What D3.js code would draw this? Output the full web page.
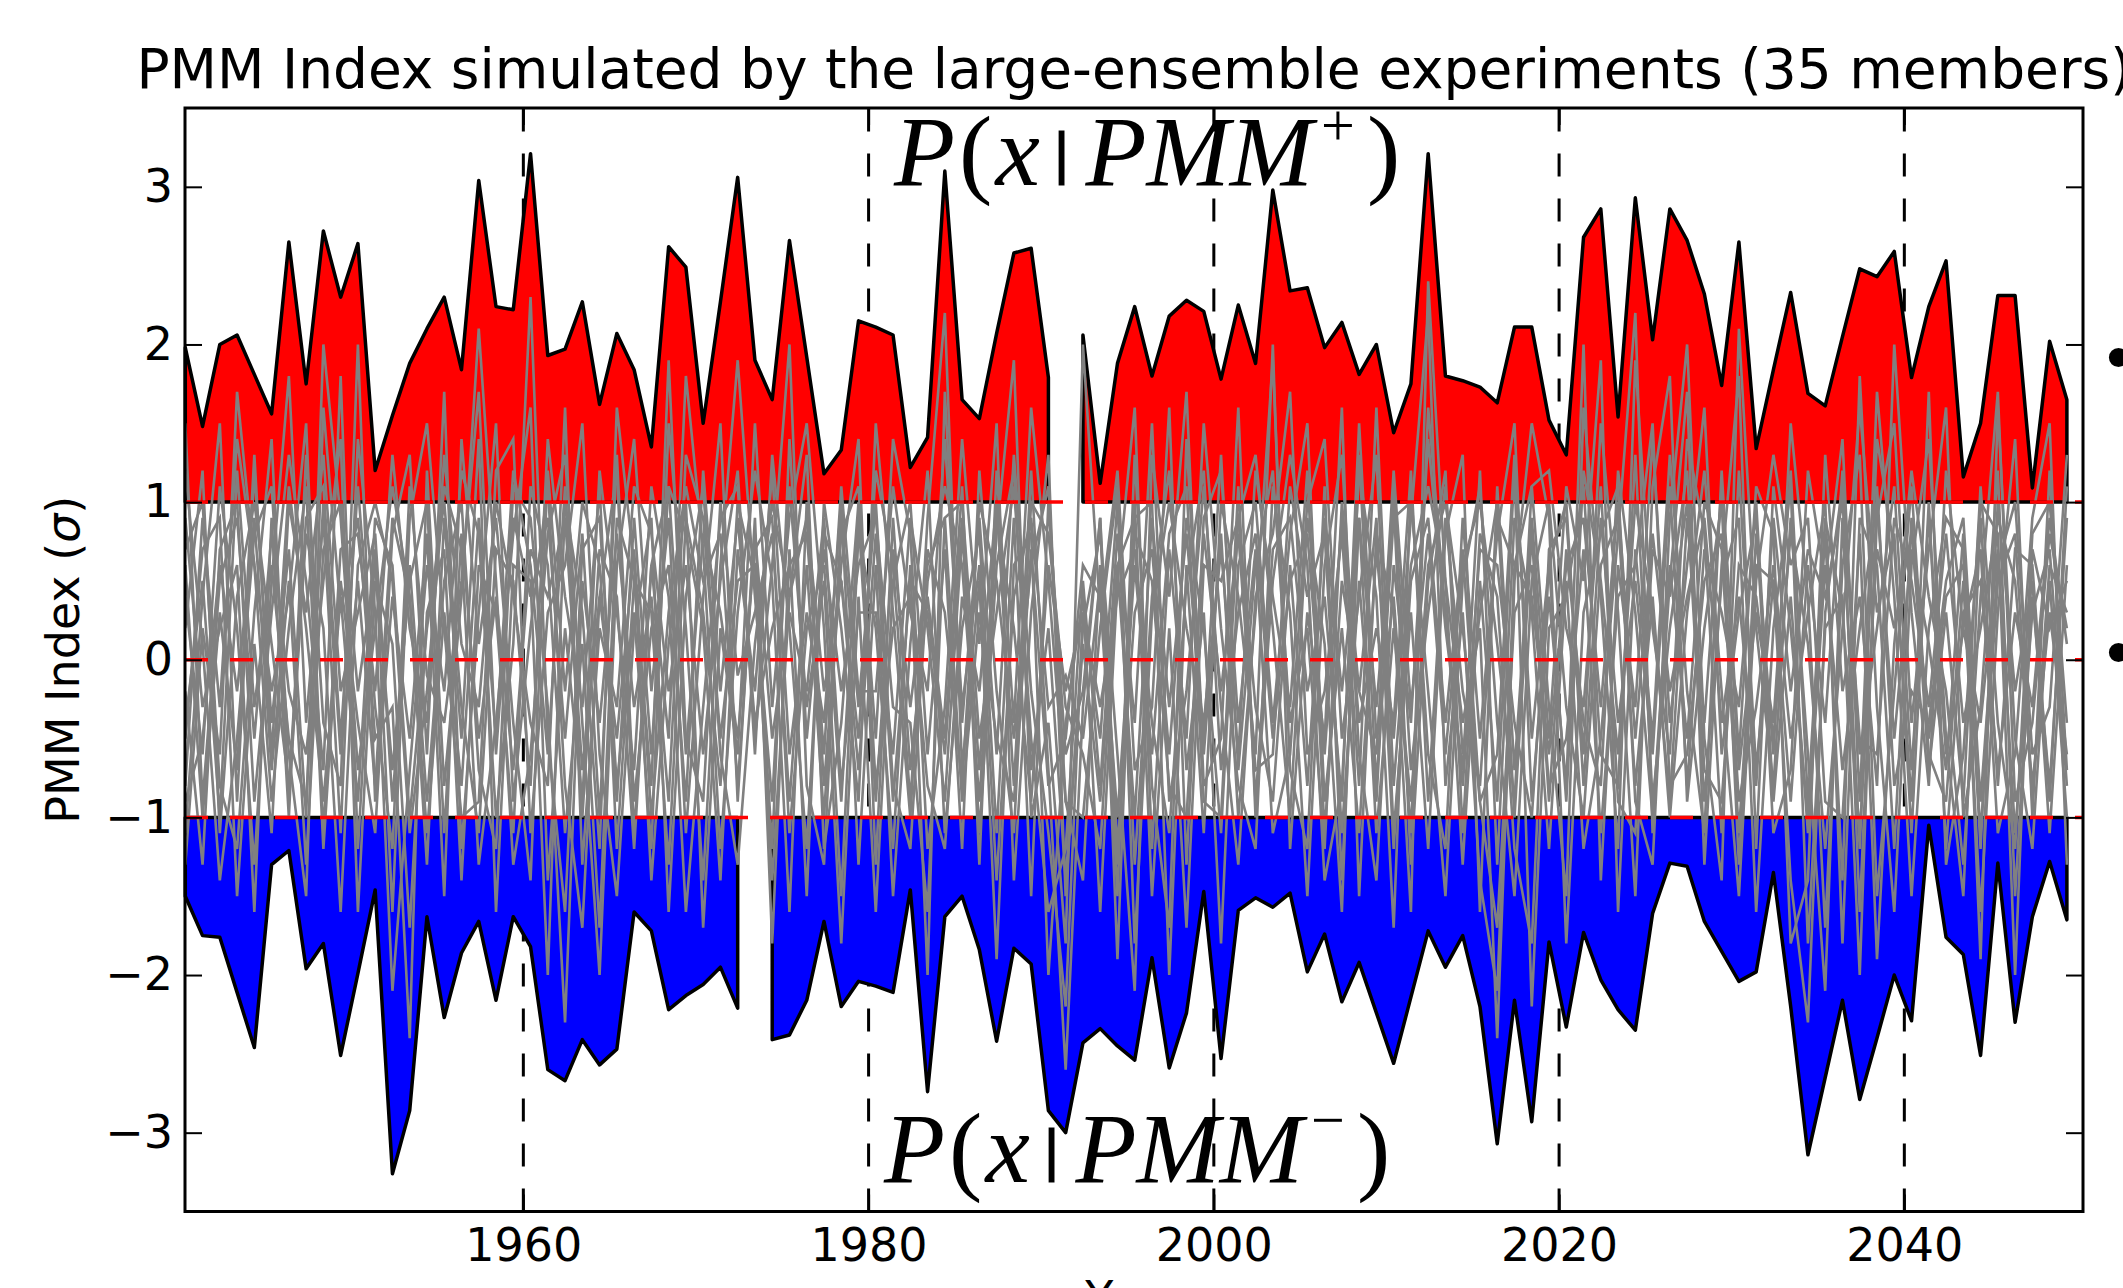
<!DOCTYPE html>
<html>
<head>
<meta charset="utf-8">
<script src="https://cdn.jsdelivr.net/npm/d3@7"></script>
<style>
body { margin: 0; background: #fff; }
svg { display: block; }
.tick text { font-family: "DejaVu Sans", sans-serif; font-size: 46px; fill: #000; }
.tick line { stroke: #000; stroke-width: 2px; }
.vline { stroke: #000; stroke-width: 3px; stroke-dasharray: 23 22; }
.hline { stroke: #f00; stroke-width: 3.5px; stroke-dasharray: 23 22; }
.env-pos { fill: #f00; stroke: #000; stroke-width: 3.5px; stroke-linejoin: round; }
.env-neg { fill: #00f; stroke: #000; stroke-width: 3.5px; stroke-linejoin: round; }
.member { fill: none; stroke: #808080; stroke-width: 2.6px; }
.frame { fill: none; stroke: #000; stroke-width: 3px; }
.title, .label { font-family: "DejaVu Sans", sans-serif; fill: #000; }
.eq { font-family: "Liberation Serif", "Times New Roman", serif; font-size: 100px; fill: #000; }
.bar { stroke: #000; stroke-width: 3px; }
</style>
</head>
<body>
<svg id="chart" width="2123" height="1288"></svg>
<script>
// years of the simulation; each value sits at year + 5/12 on the axis
var years = d3.range(1940, 2050);

// ensemble maximum / minimum of the PMM index (sigma)
var pmmMax = [1.98,1.48,2.00,2.06,1.81,1.56,2.65,1.75,2.72,2.30,
  2.64,1.20,1.55,1.88,2.10,2.30,1.84,3.04,2.24,2.22,
  3.21,1.93,1.97,2.27,1.62,2.07,1.84,1.35,2.62,2.49,
  1.50,2.27,3.06,1.90,1.65,2.66,1.92,1.18,1.33,2.15,
  2.11,2.06,1.22,1.41,3.10,1.65,1.53,2.07,2.58,2.61,
  1.79,0.15,2.06,1.12,1.88,2.24,1.80,2.18,2.28,2.21,
  1.78,2.25,1.88,2.98,2.34,2.36,1.98,2.14,1.81,2.00,
  1.44,1.75,3.21,1.80,1.77,1.73,1.63,2.11,2.11,1.52,
  1.30,2.68,2.86,1.54,2.93,2.03,2.86,2.66,2.32,1.74,
  2.65,1.34,1.84,2.33,1.69,1.61,2.05,2.48,2.43,2.59,
  1.79,2.24,2.53,1.16,1.50,2.31,2.31,1.09,2.02,1.65];

var pmmMin = [-1.50,-1.75,-1.76,-2.11,-2.46,-1.30,-1.21,-1.96,-1.80,-2.51,
  -1.99,-1.46,-3.26,-2.86,-1.63,-2.27,-1.86,-1.66,-2.16,-1.63,
  -1.82,-2.60,-2.67,-2.41,-2.57,-2.47,-1.60,-1.72,-2.22,-2.13,
  -2.06,-1.95,-2.21,-0.92,-2.41,-2.38,-2.16,-1.66,-2.20,-2.04,
  -2.07,-2.11,-1.46,-2.74,-1.63,-1.50,-1.84,-2.42,-1.83,-1.93,
  -2.86,-3.00,-2.43,-2.34,-2.45,-2.54,-1.89,-2.59,-2.24,-1.47,
  -2.53,-1.59,-1.51,-1.57,-1.48,-1.98,-1.74,-2.17,-1.92,-2.24,
  -2.56,-2.14,-1.72,-1.95,-1.75,-2.20,-3.07,-2.16,-2.93,-1.79,
  -2.33,-1.73,-2.03,-2.22,-2.35,-1.61,-1.29,-1.31,-1.66,-1.85,
  -2.04,-1.98,-1.35,-2.20,-3.14,-2.65,-2.16,-2.79,-2.40,-2.00,
  -2.29,-1.05,-1.76,-1.87,-2.51,-1.29,-2.30,-1.63,-1.28,-1.65];

// individual members (estimated, grey spaghetti)
var member01 = [0.4,-0.6,1.1,0.2,-1.3,0.5,1.8,-0.4,0.9,-1.1,
  1.4,0.3,-2.1,-0.7,0.6,-0.2,1.2,0.8,-1.0,0.1,
  2.3,-0.5,-1.6,0.7,0.9,-0.8,0.3,-1.2,1.5,0.2,
  -1.4,0.6,1.9,0.4,-0.9,1.1,-0.3,0.5,-1.5,0.8,
  0.2,-1.2,0.6,-2.0,1.7,-0.4,0.9,-0.6,1.3,-0.2,
  -1.1,-2.2,0.3,-0.5,1.0,-1.3,0.4,1.2,-0.7,0.3,
  -1.8,0.6,1.0,-0.4,0.8,1.5,-0.9,0.2,-1.1,0.7,
  -0.5,0.9,2.2,-0.8,0.3,-1.4,-2.1,0.6,1.1,-0.3,
  -1.5,1.6,0.4,-1.2,1.9,0.2,-0.6,1.4,0.8,-1.1,
  1.2,-0.7,0.5,-1.4,-2.3,0.3,1.1,-1.6,0.9,1.5,
  -0.4,0.7,1.6,-1.0,-0.3,1.2,-1.5,0.4,-0.8,0.9];
var member02 = [-0.8,0.9,-0.3,1.4,0.6,-0.9,0.2,1.1,-1.2,0.5,
  -0.4,-1.1,0.8,1.3,-0.6,1.7,-1.2,0.3,1.5,-0.9,
  0.2,1.1,-0.8,-1.7,0.4,1.2,-1.1,0.6,-0.5,1.8,
  0.7,-1.2,0.3,1.2,0.5,-1.6,1.0,-0.8,0.6,1.4,
  -1.3,0.9,-0.7,0.4,-0.5,1.1,-1.3,1.2,-0.4,1.6,
  0.5,-0.9,-1.4,0.6,-1.5,1.3,-0.8,-1.7,1.4,-0.6,
  0.8,-1.0,0.3,1.9,-0.7,-1.2,1.1,-1.4,0.9,-0.3,
  1.0,-1.3,0.5,1.2,-1.1,0.8,0.4,-1.2,-1.8,0.7,
  0.9,-0.6,1.5,0.3,-1.5,1.1,1.8,-0.9,0.2,1.0,
  -1.3,0.8,-0.6,1.5,0.4,-1.7,0.6,1.3,-1.5,-0.2,
  1.1,-0.6,-0.9,0.5,-1.6,0.3,1.4,-1.0,1.2,-0.7];
var member03 = [1.2,0.1,-1.4,-0.5,0.8,1.1,-0.6,-1.5,1.6,0.3,
  0.9,-0.5,-0.3,-2.4,1.2,-0.8,0.4,2.1,0.5,-1.3,
  -0.6,0.8,1.3,-0.4,-2.0,0.6,1.4,-0.2,0.9,-1.1,
  0.4,1.5,-0.9,0.9,-1.8,0.7,-1.5,1.0,0.2,-0.9,
  1.5,0.3,-1.0,0.9,2.2,-0.7,0.5,-1.9,0.6,0.8,
  -2.0,-0.4,0.4,-1.6,0.5,1.6,-1.2,0.7,-0.5,1.5,
  0.2,-0.8,-1.2,1.1,0.3,-1.5,0.6,1.3,-0.6,-1.4,
  0.6,-0.4,1.4,0.2,-0.7,1.2,-1.3,0.9,0.3,-1.2,
  0.5,-1.2,-0.5,0.8,2.2,-1.1,0.5,1.7,-1.3,0.6,
  1.8,-1.2,1.1,0.2,-1.0,0.8,-1.4,1.8,-0.3,-1.6,
  0.6,1.4,-0.5,-1.5,0.9,-0.8,0.7,0.6,-0.9,1.1];
var member04 = [-0.2,-1.3,0.7,1.0,-0.9,0.3,1.3,0.5,-0.7,1.8,
  -1.2,0.7,-1.6,0.9,1.5,0.2,-1.0,-0.9,1.2,1.4,
  -1.1,0.3,0.6,1.5,-0.6,-1.5,0.2,0.9,-1.6,0.4,
  1.1,-0.6,-1.3,0.1,1.0,0.4,1.3,-1.2,-0.4,1.0,
  -0.5,1.4,0.8,-1.2,-0.3,1.4,0.1,1.5,-1.4,0.3,
  1.3,-1.5,0.2,0.8,-0.6,-2.1,1.3,0.4,1.7,-0.8,
  -0.5,1.6,-1.0,0.5,1.3,0.6,-1.4,-0.8,1.2,0.4,
  -1.7,1.1,-0.6,-1.2,0.9,-0.5,0.8,1.5,-0.9,0.4,
  -0.8,2.0,-1.4,0.6,-0.3,1.4,-0.4,0.6,1.6,-0.6,
  0.3,0.9,-1.1,-0.7,1.2,0.5,1.4,-0.9,1.7,0.4,
  -1.5,0.2,0.9,0.7,-1.9,1.6,-0.5,-1.2,0.5,-1.0];
var member05 = [0.7,1.0,-0.8,-1.2,0.3,1.4,-0.9,0.8,0.2,-1.6,
  0.6,1.0,0.5,-1.1,-0.2,1.1,0.7,-1.3,-0.4,0.8,
  1.6,-1.4,0.2,-0.9,1.2,0.3,-0.7,1.1,0.4,-1.6,
  -0.3,0.9,1.1,-0.5,0.6,2.0,-0.8,-1.3,0.9,-0.3,
  1.0,-0.8,-1.2,0.5,1.1,0.6,-0.9,0.8,1.9,-1.0,
  -0.4,-1.8,2.0,0.3,1.2,-0.7,-0.3,1.6,-1.3,0.9,
  1.2,-0.4,0.7,-1.1,-0.6,1.0,1.4,-0.5,0.4,1.3,
  -1.1,0.3,-1.2,0.8,1.3,-1.6,1.1,-0.7,0.9,-0.5,
  1.1,0.5,1.9,-1.6,0.7,-0.5,1.3,-0.2,-1.1,1.2,
  -0.6,1.1,0.8,-1.8,-1.4,1.3,-0.2,0.4,-0.8,2.0,
  0.3,-0.8,1.2,0.2,0.7,-1.1,-0.6,0.9,1.5,-1.3];
var member06 = [-1.1,0.4,1.5,-0.9,1.2,-0.4,0.7,-1.0,2.0,0.9,
  -0.7,0.2,1.1,0.4,-1.3,0.9,-0.5,1.4,-1.6,0.6,
  0.5,-2.0,1.0,0.3,-1.2,1.6,0.6,-1.4,0.1,1.0,
  -1.7,0.2,-0.6,1.5,-0.3,0.9,1.5,0.2,-1.8,0.4,
  -1.6,0.5,1.0,-0.6,0.7,-1.2,1.2,-0.2,-1.1,1.0,
  0.8,-0.3,-0.6,-1.2,0.6,0.9,1.0,-2.0,0.6,-1.1,
  1.0,0.4,-0.6,2.0,-1.2,0.3,-0.5,1.6,-1.5,0.8,
  0.3,-1.6,2.4,0.5,-0.4,0.2,-2.4,0.5,1.5,0.9,
  -1.8,0.3,0.8,1.1,-0.9,-1.3,0.9,2.0,-0.5,-1.4,
  2.1,0.2,-0.8,0.9,-0.6,-2.1,0.9,-1.2,1.4,0.7,
  -0.9,1.7,-1.3,-0.6,1.0,0.8,-2.0,0.7,0.2,0.5];
var member07 = [0.9,-0.3,0.2,0.6,-1.6,0.9,-1.0,1.3,-0.4,-0.8,
  2.0,-0.9,0.4,-0.5,0.8,-1.5,1.4,0.1,0.9,-0.4,
  -1.4,1.2,-0.2,1.0,0.6,-0.9,0.9,-0.6,1.1,0.8,
  0.2,-1.4,0.7,-0.2,1.2,-0.6,0.3,-0.4,1.0,-1.3,
  0.6,-1.5,0.1,1.2,-1.1,0.2,0.8,-1.1,0.9,-1.5,
  1.0,-0.6,-0.2,0.9,-1.2,0.3,0.7,-0.6,0.9,0.2,
  -1.1,0.9,1.3,0.2,-1.0,0.9,0.1,-1.6,1.3,-0.8,
  0.9,1.0,-0.2,-1.5,0.5,1.1,-0.4,-1.5,0.5,1.0,
  -0.3,-1.0,0.6,0.9,-0.8,0.4,-1.0,0.3,1.2,-0.2,
  -1.5,0.5,1.3,0.6,0.9,-0.9,-1.0,0.8,-1.9,0.1,
  1.2,0.4,-0.2,-1.3,0.4,1.7,-0.9,-0.4,0.8,0.2];
var member08 = [-0.5,0.7,0.9,-1.5,0.1,-1.1,1.0,0.3,1.3,-0.2,
  0.3,0.8,-0.9,0.6,-0.9,0.5,1.0,-0.7,-1.2,1.1,
  0.9,-0.3,-2.3,0.5,-0.4,0.8,-0.3,0.4,-0.9,1.3,
  0.9,-0.5,0.5,0.6,-1.2,1.4,-0.5,0.7,-0.2,0.6,
  0.9,-0.3,-0.4,-1.6,0.9,1.0,-0.5,0.3,1.1,-0.5,
  -1.6,-1.2,0.5,-0.8,0.8,-0.4,1.5,-0.9,-0.2,1.1,
  -0.3,-1.3,0.4,0.8,1.7,-0.6,-0.2,0.8,-0.8,1.6,
  -0.8,0.6,1.1,0.5,-1.3,0.5,-0.9,1.2,-2.2,0.2,
  0.4,1.1,-0.6,-0.8,1.3,-0.9,0.2,1.0,-0.9,0.5,
  0.9,-1.6,0.2,1.1,-1.8,0.2,0.4,-2.0,1.1,-0.8,
  -0.2,-0.4,0.5,0.9,-0.9,0.6,1.0,-0.6,-0.3,1.3];
var member09 = [1.5,-0.9,0.5,0.9,-0.5,0.8,-0.2,-0.6,0.5,1.4,
  -1.6,0.5,0.1,-1.7,0.3,0.7,-1.4,0.6,0.3,-1.1,
  1.1,0.6,-1.1,0.1,-1.7,0.9,0.5,-0.8,1.9,-0.5,
  -0.9,1.0,-0.1,0.3,0.8,-0.9,0.6,-1.0,0.8,1.1,
  -0.8,0.2,0.4,-0.8,-1.2,0.4,-0.2,1.0,-0.8,1.2,
  -0.7,-2.6,-0.3,0.9,-1.9,1.0,-1.5,0.2,-1.7,0.6,
  0.5,0.9,-0.3,-0.9,0.6,-0.8,0.9,-0.2,0.9,-1.1,
  0.2,-0.9,0.6,1.0,0.2,-0.9,-1.7,0.3,0.6,-0.8,
  -0.5,0.7,-1.1,0.4,0.6,1.5,-0.8,-0.6,0.5,0.8,
  -0.9,-0.3,0.6,-0.5,0.3,1.0,-1.8,0.9,0.6,-1.2,
  0.9,-0.7,0.3,-0.9,1.1,-0.4,-1.2,0.8,1.0,-0.4];
var member10 = [-1.3,0.2,-0.6,1.7,0.6,-0.2,0.4,1.5,-1.1,0.7,
  0.8,-0.2,1.3,0.2,-0.4,1.3,0.1,-0.3,1.0,0.4,
  -0.4,-0.8,1.6,-1.3,0.2,-0.3,1.1,0.8,-0.2,0.6,
  -0.6,0.5,1.2,-0.6,1.3,0.2,-1.2,0.8,0.5,-0.5,
  1.2,0.6,-0.9,0.7,0.3,-0.8,1.0,0.5,-0.5,0.6,
  1.1,-0.9,-1.0,0.2,1.1,-1.8,0.3,1.0,0.2,-0.4,
  0.7,-0.6,1.2,0.4,-0.3,1.2,-1.1,0.5,-0.2,-0.6,
  1.2,-0.3,0.8,-0.6,0.6,1.0,0.1,-0.9,1.1,1.2,
  0.2,-0.3,1.1,-0.9,-1.1,0.7,0.4,1.2,-0.7,-0.9,
  0.6,0.4,-0.5,0.8,0.1,-1.2,0.2,1.6,0.3,0.8,
  -1.1,1.0,-1.2,0.3,0.5,-0.7,0.3,-0.3,0.9,0.1];
var member11 = [0.2,1.2,-1.1,0.4,1.0,0.1,-0.8,0.9,1.1,-0.5,
  1.1,-0.3,-1.2,1.1,-0.1,-0.4,0.5,1.7,-0.6,0.9,
  0.4,0.9,-0.5,0.8,-1.0,1.3,-0.9,0.2,0.6,-0.9,
  1.2,-0.2,0.9,-0.4,0.2,0.6,0.8,-0.6,1.1,-0.2,
  -0.2,1.1,0.3,-0.2,1.4,-0.3,0.6,-1.4,0.4,0.9,
  -0.3,-0.1,-0.5,0.5,-1.0,0.6,-0.6,0.8,1.1,-0.9,
  -1.0,1.1,-0.9,0.7,0.9,-0.2,0.4,-0.9,1.5,-0.5,
  0.4,-1.1,1.6,0.3,-0.8,0.7,0.6,-0.4,-1.0,0.6,
  1.0,-0.8,0.9,-0.4,0.5,-0.6,1.1,-0.8,0.7,0.3,
  -0.3,1.0,-0.9,0.4,-1.1,0.6,-0.7,0.2,1.0,-0.5,
  0.7,0.1,-0.7,0.8,-1.2,1.0,-0.2,0.5,-1.1,0.6];
var member12 = [-0.9,-0.5,0.6,-0.2,0.9,-0.7,0.5,-1.3,0.7,1.0,
  -0.2,0.6,-0.7,0.5,1.0,-1.1,0.8,-0.5,0.4,-0.7,
  0.7,0.4,0.9,-0.7,0.4,-0.5,0.7,-1.0,0.3,1.1,
  0.5,0.8,-0.8,0.8,-0.5,0.3,-0.2,0.9,-0.8,0.3,
  0.3,-0.6,0.9,0.2,-0.9,0.8,-0.7,0.9,0.2,-0.9,
  0.6,-0.2,0.3,-0.3,0.4,0.7,-0.4,-1.1,0.5,1.2,
  -0.7,0.3,0.8,-0.5,0.5,0.8,-0.6,0.9,-0.4,0.2,
  -0.4,1.2,-0.9,0.9,-0.2,-0.8,0.9,0.6,0.4,-0.6,
  0.6,0.9,-0.3,1.0,-0.5,0.8,-0.2,0.4,0.9,-0.4,
  0.4,-0.8,0.9,-0.2,0.7,0.4,1.0,-0.5,-0.6,0.9,
  0.5,-0.3,0.8,-0.4,0.2,0.9,0.5,-0.8,0.3,-0.6];
var member13 = [0.6,-1.0,0.3,-0.7,1.3,-0.6,1.1,0.2,-0.9,0.4,
  -0.9,0.9,0.6,-1.0,0.2,1.0,-0.3,-1.1,0.7,0.5,
  -0.8,1.4,0.4,-0.3,1.1,-1.2,0.5,0.3,-1.3,0.9,
  0.3,-0.8,1.0,0.5,-1.4,0.4,0.9,-0.2,0.5,-0.7,
  0.8,-0.9,0.5,0.3,-0.6,0.9,-1.1,0.6,1.2,-0.7,
  0.2,-1.4,0.1,-0.9,0.6,-1.0,0.9,-0.3,0.8,-0.5,
  1.3,-0.7,0.6,1.2,-0.4,0.2,-1.2,1.0,-0.2,0.9,
  -1.2,0.5,0.9,-0.4,0.7,-0.9,-0.6,1.3,-0.5,0.6,
  -0.9,1.2,0.5,-0.6,1.0,0.3,-0.9,0.9,-0.4,1.1,
  -0.7,0.3,-0.4,1.2,-0.9,0.9,0.3,-1.1,0.7,0.2,
  0.8,-0.5,0.4,0.6,-1.1,0.5,0.8,-0.9,0.6,0.3];
var member14 = [-0.4,0.5,-1.0,1.2,-0.3,0.6,-0.5,-0.9,1.0,-0.6,
  0.5,-0.8,0.9,0.4,-1.1,0.3,-0.8,0.9,-0.5,1.2,
  0.6,-0.6,1.1,-1.0,0.7,0.4,-1.2,0.6,1.1,-0.6,
  0.8,0.3,-0.5,0.7,0.9,-1.1,0.2,0.6,-0.9,0.9,
  -0.9,0.7,-0.3,0.6,0.9,-0.9,0.3,-0.5,-0.9,0.7,
  -0.8,-0.5,0.6,0.4,-1.3,0.8,0.5,-0.8,-1.0,0.8,
  -0.2,0.8,-0.7,-0.6,1.1,0.4,0.8,-1.1,0.5,-0.9,
  1.1,-0.7,0.3,1.1,-0.6,0.3,1.0,-1.0,0.8,-0.9,
  0.7,-0.4,-0.8,1.2,0.3,-1.0,0.6,-0.5,1.0,0.7,
  -1.1,0.6,0.5,-0.9,0.6,-0.4,1.2,-0.6,0.2,1.1,
  -0.7,0.9,-0.6,0.2,-0.4,0.7,-1.1,0.3,0.7,-0.8];

var members = [member01, member02, member03, member04, member05, member06, member07,
  member08, member09, member10, member11, member12, member13, member14];

var yTicks = [-3, -2, -1, 0, 1, 2, 3];
var xTicks = [1960, 1980, 2000, 2020, 2040];
var refLevels = [1, 0, -1];

var margin = {top: 108, right: 40, bottom: 76.5, left: 185},
    width  = 2123 - margin.left - margin.right,
    height = 1288 - margin.top - margin.bottom;

var x = d3.scaleLinear().domain([1940.4, 2050.35]).range([0, width]);
var y = d3.scaleLinear().domain([-3.5, 3.5]).range([height, 0]);
var xt = function(i) { return x(years[i] + 5 / 12); };

var svg = d3.select("#chart");
var g = svg.append("g")
    .attr("transform", "translate(" + margin.left + "," + margin.top + ")");

// vertical dashed guides (drawn from the bottom up, like axvline)
g.selectAll(".vline").data(xTicks).enter().append("line")
    .attr("class", "vline")
    .attr("x1", function(d) { return x(d); }).attr("x2", function(d) { return x(d); })
    .attr("y1", height).attr("y2", 0);

var idx = d3.range(years.length);

var areaPos = d3.area()
    .defined(function(i) { return pmmMax[i] > 1; })
    .x(xt).y0(y(1)).y1(function(i) { return y(pmmMax[i]); });
var areaNeg = d3.area()
    .defined(function(i) { return pmmMin[i] < -1; })
    .x(xt).y0(y(-1)).y1(function(i) { return y(pmmMin[i]); });

g.append("path").datum(idx).attr("class", "env-pos").attr("d", areaPos);
g.append("path").datum(idx).attr("class", "env-neg").attr("d", areaNeg);

var line = d3.line().x(function(d, i) { return xt(i); }).y(function(d) { return y(d); });
g.selectAll(".member").data(members).enter().append("path")
    .attr("class", "member")
    .attr("d", line);

g.selectAll(".hline").data(refLevels).enter().append("line")
    .attr("class", "hline")
    .attr("x1", 0).attr("x2", width)
    .attr("y1", function(d) { return y(d); }).attr("y2", function(d) { return y(d); });

// axes, ticks inward on all four sides
var fmt = function(d) { return d < 0 ? "\u2212" + Math.abs(d) : d; };
g.append("g")
    .call(d3.axisLeft(y).tickValues(yTicks).tickSize(-17).tickSizeOuter(0).tickPadding(12).tickFormat(fmt));
g.append("g").attr("transform", "translate(" + width + ",0)")
    .call(d3.axisRight(y).tickValues(yTicks).tickSize(-17).tickSizeOuter(0).tickFormat(""));
g.append("g").attr("transform", "translate(0," + height + ")")
    .call(d3.axisBottom(x).tickValues(xTicks).tickSize(-17).tickSizeOuter(0).tickPadding(17).tickFormat(d3.format("d")));
g.append("g")
    .call(d3.axisTop(x).tickValues(xTicks).tickSize(-17).tickSizeOuter(0).tickFormat(""));
g.selectAll(".domain").remove();
g.selectAll(".tick text").attr("font-size", null).attr("font-family", null);

g.append("rect").attr("class", "frame").attr("width", width).attr("height", height);

// title and axis labels
svg.append("text").attr("class", "title")
    .attr("x", margin.left + width / 2).attr("y", 88)
    .attr("text-anchor", "middle").attr("font-size", 55)
    .text("PMM Index simulated by the large-ensemble experiments (35 members)");

var ylab = svg.append("text").attr("class", "label")
    .attr("transform", "translate(79," + (margin.top + height / 2) + ") rotate(-90)")
    .attr("text-anchor", "middle").attr("font-size", 46);
ylab.append("tspan").text("PMM Index (");
ylab.append("tspan").attr("font-style", "italic").text("\u03c3");
ylab.append("tspan").text(")");

svg.append("text").attr("class", "label")
    .attr("x", margin.left + width / 2).attr("y", 1314)
    .attr("text-anchor", "middle").attr("font-size", 46)
    .text("Year");

// conditional-probability annotations
function eq(xp, yp, sign, dySup) {
  var t = svg.append("text").attr("class", "eq").attr("x", xp).attr("y", yp);
  t.append("tspan").attr("font-style", "italic").text("P");
  t.append("tspan").attr("dx", 4).text("(");
  t.append("tspan").attr("dx", 3).attr("font-style", "italic").text("x");
  t.append("tspan").attr("class", "bar").attr("dx", 16).attr("dy", -13).attr("font-size", 58).text("|");
  t.append("tspan").attr("dx", 18).attr("dy", 13).attr("font-style", "italic").text("PMM");
  t.append("tspan").attr("dx", 8).attr("font-size", 60).attr("dy", dySup).text(sign);
  t.append("tspan").attr("dy", -dySup).attr("dx", 12).text(")");
}
eq(894, 185, "+", -40);
eq(884, 1182, "\u2212", -42);

// bullets of the surrounding slide
svg.selectAll(".bullet").data([382, 677]).enter().append("text")
    .attr("class", "label bullet")
    .attr("x", 2099).attr("y", function(d) { return d; })
    .attr("font-size", 66)
    .text("\u2022");
</script>
</body>
</html>
